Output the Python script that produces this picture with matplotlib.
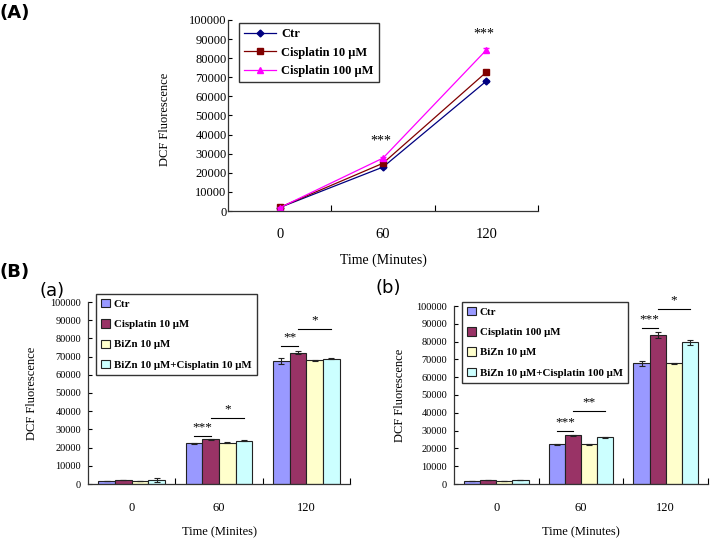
import matplotlib
matplotlib.use("Agg")
import matplotlib.pyplot as plt
import numpy as np

plt.rcParams['font.family'] = ['Liberation Serif', 'DejaVu Serif']

# ---- data ----
times = ['0', '60', '120']

# (A) line chart
line_labels = ['Ctr', 'Cisplatin 10 \u03bcM', 'Cisplatin 100 \u03bcM']
line_ctr = [1800, 23000, 68000]
line_cis10 = [1900, 25000, 72700]
line_cis100 = [1700, 27700, 84300]
line_err_ctr = [200, 500, 600]
line_err_cis10 = [200, 500, 600]
line_err_cis100 = [200, 800, 1000]

# (B)(a) bars
bar_labels_a = ['Ctr', 'Cisplatin 10 \u03bcM', 'BiZn 10 \u03bcM',
                'BiZn 10 \u03bcM+Cisplatin 10 \u03bcM']
a_ctr = [1600, 22500, 67600]
a_cis = [2200, 24500, 72200]
a_bizn = [1600, 22700, 68000]
a_combo = [2400, 23800, 68900]
a_err_ctr = [100, 300, 1400]
a_err_cis = [100, 400, 900]
a_err_bizn = [100, 300, 300]
a_err_combo = [1100, 300, 300]

# (B)(b) bars
bar_labels_b = ['Ctr', 'Cisplatin 100 \u03bcM', 'BiZn 10 \u03bcM',
                'BiZn 10 \u03bcM+Cisplatin 100 \u03bcM']
b_ctr = [1600, 22200, 67800]
b_cis = [2100, 27300, 83700]
b_bizn = [1700, 22200, 67800]
b_combo = [2200, 26300, 79600]
b_err_ctr = [100, 400, 1400]
b_err_cis = [100, 500, 1500]
b_err_bizn = [100, 400, 300]
b_err_combo = [100, 200, 1500]

# significance marks: (group, bar_from, bar_to, line height, text)
sig_a = [(1, 0, 1, 26300, '***'), (1, 1, 3, 36400, '*'),
         (2, 0, 1, 76000, '**'), (2, 1, 3, 85400, '*')]
sig_b = [(1, 0, 1, 30000, '***'), (1, 1, 3, 41200, '**'),
         (2, 0, 1, 87500, '***'), (2, 1, 3, 98300, '*')]

bar_colors = ['#9999ff', '#993366', '#ffffcc', '#ccffff']


def style_axes(ax, tick_size, ypad, xpad):
    ax.spines['top'].set_visible(False)
    ax.spines['right'].set_visible(False)
    ax.set_xlim(-0.5, 2.5)
    ax.set_ylim(0, 100000)
    ax.set_yticks(np.arange(0, 100001, 10000))
    ax.set_xticks([0, 1, 2])
    ax.set_xticklabels(times)
    ax.set_xticks([0.5, 1.5, 2.5], minor=True)
    ax.tick_params(axis='x', which='major', length=0, pad=xpad, labelsize=tick_size + 1.5)
    ax.tick_params(axis='x', which='minor', direction='in', length=4, width=0.8)
    ax.tick_params(axis='y', direction='in', length=3, width=0.8, pad=ypad,
                   labelsize=tick_size)
    for s in ['left', 'bottom']:
        ax.spines[s].set_linewidth(0.9)
        ax.spines[s].set_color('#333333')


fig = plt.figure(figsize=(7.11, 5.39), dpi=100)

# ---------------- (A) ----------------
axA = fig.add_axes([228 / 711, 1 - 211 / 539, 310 / 711, 191 / 539])
x = np.arange(len(times))
line_specs = [(line_ctr, line_err_ctr, '#000080', 'D', 3.5),
              (line_cis10, line_err_cis10, '#800000', 's', 4),
              (line_cis100, line_err_cis100, '#ff00ff', '^', 5)]
for (vals, err, col, mk, ms), lab in zip(line_specs, line_labels):
    axA.errorbar(x, vals, yerr=err, fmt='none', ecolor=col, capsize=2, elinewidth=0.8)
    axA.plot(x, vals, color=col, marker=mk, markersize=ms, lw=0.9, label=lab)
style_axes(axA, 9, 1, 12)
axA.text(1 - 0.02, 33000, '***', ha='center', va='bottom', fontsize=10)
axA.text(2 - 0.02, 89500, '***', ha='center', va='bottom', fontsize=10)
axA.set_ylabel('DCF Fluorescence', fontsize=9)
axA.yaxis.set_label_coords(-0.185, 0.48)
axA.set_xlabel('Time (Minutes)', fontsize=10)
axA.xaxis.set_label_coords(0.5, -0.225)
legA = axA.legend(loc='upper left', bbox_to_anchor=(0.015, 1.015),
                  frameon=True, fancybox=False, edgecolor='black', handlelength=2.6,
                  borderpad=0.4, labelspacing=0.5, handletextpad=0.4,
                  prop={'weight': 'bold', 'size': 9})
legA.get_frame().set_linewidth(1.0)


# ---------------- (B) bars ----------------
def bar_panel(ax, series, errs, labels, sigs, xlabel, leg_anchor):
    n = len(series)
    width = 0.19
    offsets = (np.arange(n) - (n - 1) / 2) * width
    for i in range(n):
        ax.bar(x + offsets[i], series[i], width, color=bar_colors[i],
               edgecolor='#222222', linewidth=0.8, label=labels[i],
               yerr=errs[i], capsize=2,
               error_kw={'elinewidth': 0.8, 'capthick': 0.8, 'ecolor': '#222222'})
    for g, b0, b1, h, txt in sigs:
        x0 = g + offsets[b0]
        x1 = g + offsets[b1]
        ax.plot([x0, x1], [h, h], color='black', lw=0.8)
        ax.text((x0 + x1) / 2, h + 1500, txt, ha='center', va='bottom', fontsize=9.5)
    style_axes(ax, 7.5, 5, 13)
    ax.set_ylabel('DCF Fluorescence', fontsize=9)
    ax.yaxis.set_label_coords(-0.19, 0.5)
    ax.set_xlabel(xlabel, fontsize=9)
    ax.xaxis.set_label_coords(0.5, -0.235)
    leg = ax.legend(loc='upper left', bbox_to_anchor=leg_anchor, frameon=True,
                    fancybox=False, edgecolor='black', handlelength=0.8,
                    handleheight=0.8, borderpad=0.5, labelspacing=0.95,
                    handletextpad=0.35, prop={'weight': 'bold', 'size': 7.8})
    leg.get_frame().set_linewidth(1.0)


axa = fig.add_axes([88 / 711, 1 - 484 / 539, 262 / 711, 182 / 539])
bar_panel(axa, [a_ctr, a_cis, a_bizn, a_combo],
          [a_err_ctr, a_err_cis, a_err_bizn, a_err_combo],
          bar_labels_a, sig_a, 'Time (Minites)', (0.01, 1.075))

axb = fig.add_axes([454 / 711, 1 - 484 / 539, 254 / 711, 178 / 539])
bar_panel(axb, [b_ctr, b_cis, b_bizn, b_combo],
          [b_err_ctr, b_err_cis, b_err_bizn, b_err_combo],
          bar_labels_b, sig_b, 'Time (Minutes)', (0.01, 1.055))

# panel labels
fig.text(15 / 711, 1 - 13 / 539, '(A)', fontsize=13, fontweight='bold',
         family='DejaVu Sans', ha='center', va='center')
fig.text(15 / 711, 1 - 272 / 539, '(B)', fontsize=13, fontweight='bold',
         family='DejaVu Sans', ha='center', va='center')
fig.text(52 / 711, 1 - 291 / 539, '(a)', fontsize=13, family='DejaVu Sans',
         ha='center', va='center')
fig.text(388 / 711, 1 - 288 / 539, '(b)', fontsize=13, family='DejaVu Sans',
         ha='center', va='center')

fig.savefig('out.png', dpi=100)
